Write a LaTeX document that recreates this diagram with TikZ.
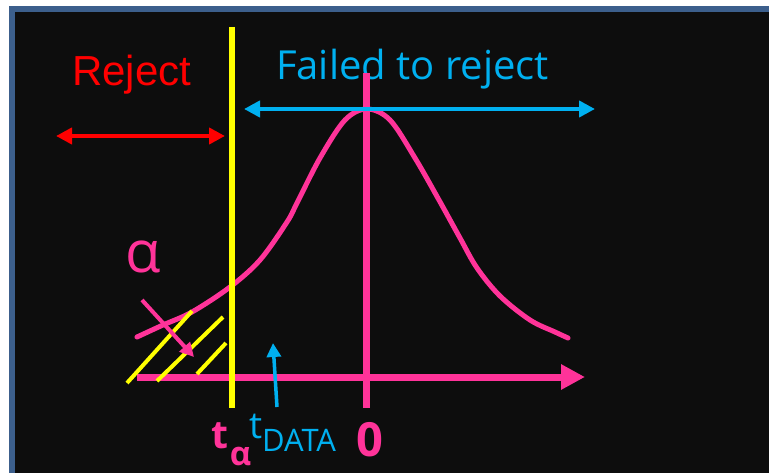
\documentclass[tikz,border=0pt]{standalone}
\usepackage{fontspec}
\setmainfont{Open Sans}
\newfontfamily\arialf{Liberation Sans}
\newfontfamily\opensf{Open Sans}
\usetikzlibrary{arrows.meta}
\definecolor{bgdark}{HTML}{0D0D0D}
\definecolor{frameblue}{HTML}{3C5F8C}
\definecolor{hotpink}{HTML}{FF3399}
\definecolor{cyanblue}{HTML}{00B0F0}
\definecolor{pureyellow}{HTML}{FFFF00}
\definecolor{purered}{HTML}{FF0000}
\tikzset{
  txt/.style={inner sep=0pt, outer sep=0pt, anchor=base west},
  dblarrow/.style={line width=4pt, {Triangle[length=16pt,width=16pt]}-{Triangle[length=16pt,width=16pt]}},
  hatch/.style={pureyellow, line width=4pt},
}
\begin{document}
\begin{tikzpicture}[x=1pt,y=-1pt]
\path[use as bounding box, fill=white] (0,0) rectangle (769,473);
\fill[frameblue] (9,6) rectangle (780,480);
\fill[bgdark] (15,12) rectangle (780,480);

% coordinates
\coordinate (ra) at (56,136);
\coordinate (rb) at (225,136);
\coordinate (ba) at (244,109);
\coordinate (bb) at (595,109);
\coordinate (yt) at (232,27);
\coordinate (yb) at (232,408);
\coordinate (pt) at (366,73);
\coordinate (pb) at (366,408);
\coordinate (axa) at (137,377);
\coordinate (axb) at (585,377);
\coordinate (aa) at (142,300);
\coordinate (ab) at (194,357);
\coordinate (da) at (277,407);
\coordinate (db) at (273,343);
\coordinate (h1a) at (127,383);
\coordinate (h1b) at (192,311);
\coordinate (h2a) at (157,381);
\coordinate (h2b) at (223,317);
\coordinate (h3a) at (197,374);
\coordinate (h3b) at (226,343);

% texts
\node[txt, text=purered, font=\arialf\fontsize{42}{42}\selectfont] (rej) at (72,86) {Reject};
\node[txt, text=cyanblue, font=\opensf\fontsize{40}{40}\selectfont] (ftr) at (276,80) {Failed to reject};
\node[inner sep=0pt, anchor=base, text=hotpink, font=\opensf\fontsize{58}{58}\selectfont] (alpha) at (143,273) {α};

% bell curve
\draw[hotpink, line width=5pt, line cap=round] plot[smooth, tension=0.55] coordinates {
 (137,337) (163,325) (192,312) (230,287) (260,260) (287,222) (297,203) (320,158) (345,120) (367,109) (390,120) (415,158) (439,200) (460,238) (477,268) (500,296) (530,320) (555,332) (568,338)};

% axes and lines
\draw[hotpink, line width=7pt, -{Triangle[length=24pt,width=24pt]}] (axa) -- (axb);
\draw[pureyellow, line width=6pt] (yt) -- (yb);
\draw[hotpink, line width=7pt] (pt) -- (pb);
\draw[purered, dblarrow] (ra) -- (rb);
\draw[cyanblue, dblarrow] (ba) -- (bb);

% hatching
\draw[hatch] (h1a) -- (h1b);
\draw[hatch] (h2a) -- (h2b);
\draw[hatch] (h3a) -- (h3b);

% small arrows
\draw[hotpink, line width=4pt, -{Triangle[length=14pt,width=14pt]}] (aa) -- (ab);
\draw[cyanblue, line width=3.5pt, -{Triangle[length=14pt,width=14pt]}] (da) -- (db);

% bottom labels
\node[txt, text=hotpink, font=\opensf\bfseries\fontsize{39}{39}\selectfont] (ta) at (211,448) {t\hspace{2pt}\raisebox{-17pt}{\fontsize{33}{33}\selectfont α}};
\node[txt, text=cyanblue, font=\opensf\fontsize{37}{37}\selectfont] (td) at (249,438) {t\raisebox{-13pt}{\fontsize{31}{31}\selectfont DATA}};
\node[inner sep=0pt, anchor=base, text=hotpink, font=\opensf\bfseries\fontsize{47}{47}\selectfont] (zero) at (370,456) {0};
\end{tikzpicture}
\end{document}
